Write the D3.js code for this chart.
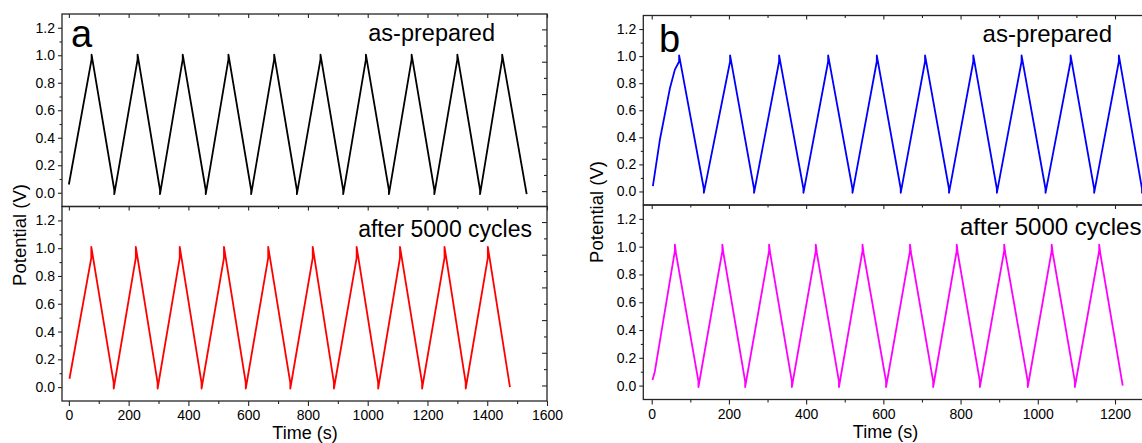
<!DOCTYPE html>
<html>
<head>
<meta charset="utf-8">
<script src="https://cdn.jsdelivr.net/npm/d3@7"></script>
<style>
body{margin:0;background:#fff;}
text{font-family:"Liberation Sans", Arial, sans-serif;fill:#000;}
</style>
</head>
<body>
<div id="vis-container"></div>
<script>
//data: time (s) and potential (V) at the turning points

//panel a, as-prepared (black)
let timeA1 = [0, 76,76, 152,152, 230,230, 305,305, 381,381, 458,458, 534,534, 610,610, 687,687,
  763,763, 842,842, 918,918, 994,994, 1071,1071, 1147,1147, 1223,1223, 1300,1300, 1376,1376, 1450,1450, 1532];
let potA1 = [0.06, 0.97,1.005, 0.02,-0.01, 0.97,1.005, 0.02,-0.01, 0.97,1.005, 0.02,-0.01, 0.97,1.005,
  0.02,-0.01, 0.97,1.005, 0.02,-0.01, 0.97,1.005, 0.02,-0.01, 0.97,1.005, 0.02,-0.01, 0.97,1.005,
  0.02,-0.01, 0.97,1.005, 0.02,-0.01, 0.97,1.005, -0.01];

//panel a, after 5000 cycles (red)
let timeA2 = [2, 75,75, 150,150, 224,224, 297,297, 371,371, 444,444, 519,519, 592,592, 667,667,
  741,741, 816,816, 887,887, 963,963, 1035,1035, 1108,1108, 1182,1182, 1257,1257, 1328,1328, 1402,1402, 1476];
let potA2 = [0.06, 0.93,1.01, 0.03,-0.01, 0.93,1.01, 0.03,-0.01, 0.93,1.01, 0.03,-0.01, 0.93,1.01,
  0.03,-0.01, 0.93,1.01, 0.03,-0.01, 0.93,1.01, 0.03,-0.01, 0.93,1.01, 0.03,-0.01, 0.93,1.01,
  0.03,-0.01, 0.93,1.01, 0.03,-0.01, 0.93,1.01, 0.0];

//panel b, as-prepared (blue)
let timeB1 = [3, 21, 47, 60, 71,71, 135,135, 203,203, 265,265, 330,330, 393,393, 457,457, 520,520,
  583,583, 645,645, 708,708, 770,770, 833,833, 894,894, 958,958, 1020,1020, 1085,1085, 1146,1146,
  1210,1210, 1270,1270, 1290];
let potB1 = [0.04, 0.38, 0.76, 0.9, 0.96,1.005, 0.02,-0.01, 0.96,1.005, 0.02,-0.01, 0.96,1.005,
  0.02,-0.01, 0.96,1.005, 0.02,-0.01, 0.96,1.005, 0.02,-0.01, 0.96,1.005, 0.02,-0.01, 0.96,1.005,
  0.02,-0.01, 0.96,1.005, 0.02,-0.01, 0.96,1.005, 0.02,-0.01, 0.96,1.005, 0.02,-0.01, 0.16];

//panel b, after 5000 cycles (magenta)
let timeB2 = [2, 8, 60,60, 63, 121,121, 183,183, 186, 242,242, 304,304, 307, 363,363, 425,425, 428,
  485,485, 546,546, 549, 607,607, 669,669, 672, 729,729, 790,790, 793, 850,850, 913,913, 916,
  974,974, 1036,1036, 1039, 1096,1096, 1159,1159, 1162, 1220];
let potB2 = [0.04, 0.1, 0.97,1.015, 0.95, 0.03,-0.01, 0.97,1.015, 0.95, 0.03,-0.01, 0.97,1.015, 0.95,
  0.03,-0.01, 0.97,1.015, 0.95, 0.03,-0.01, 0.97,1.015, 0.95, 0.03,-0.01, 0.97,1.015, 0.95,
  0.03,-0.01, 0.97,1.015, 0.95, 0.03,-0.01, 0.97,1.015, 0.95, 0.03,-0.01, 0.97,1.015, 0.95,
  0.03,-0.01, 0.97,1.015, 0.95, 0.0];

//tick values
let yTicks = [0, 0.2, 0.4, 0.6, 0.8, 1.0, 1.2];
let yMinor = [0.1, 0.3, 0.5, 0.7, 0.9, 1.1];
let rightTicks = [0, 0.2, 0.4, 0.6, 0.8, 1.0];
let rightMinor = [0.1, 0.3, 0.5, 0.7, 0.9];
let xTicksA = [0, 200, 400, 600, 800, 1000, 1200, 1400, 1600];
let xMinorA = [100, 300, 500, 700, 900, 1100, 1300, 1500];
let xTicksB = [0, 200, 400, 600, 800, 1000, 1200];
let xMinorB = [100, 300, 500, 700, 900, 1100, 1300];

let labelTop = "as-prepared";
let labelBottom = "after 5000 cycles";

//create svg container
let svg = d3.select("#vis-container")
  .append("svg")
  .attr("width", 1142)
  .attr("height", 443);

let axisColor = "#262626";

function addAxis(g, axis, tx, ty){
  let a = g.append("g")
    .attr("transform", `translate(${tx},${ty})`)
    .call(axis);
  a.select(".domain").remove();
  a.selectAll("line").attr("stroke", axisColor).attr("stroke-width", 1.1);
  a.selectAll("text").attr("font-size", "14px").attr("fill", "#000")
    .attr("font-family", "'Liberation Sans', Arial, sans-serif");
  return a;
}

function drawPanel(p){
  let g = svg.append("g");

  let x = d3.scaleLinear()
    .domain(p.xDomain)
    .range([p.left, p.right]);

  let rows = [
    {top:p.top, bottom:p.mid, time:p.t1, pot:p.v1, color:p.c1, label:labelTop, ly:p.ly1, ls:p.ls1},
    {top:p.mid, bottom:p.bottom, time:p.t2, pot:p.v2, color:p.c2, label:labelBottom, ly:p.ly2, ls:p.ls2}
  ];

  rows.forEach((r, i)=>{
    let y = d3.scaleLinear()
      .domain([-0.1, 1.3])
      .range([r.bottom, r.top]);

    //the right axis of the original has its own spacing
    let yR = d3.scaleLinear()
      .domain([-0.095, 1.095])
      .range([r.bottom, r.top]);

    //clip each trace to its box
    let clipId = `clip-${p.letter}-${i}`;
    svg.append("clipPath").attr("id", clipId)
      .append("rect")
      .attr("x", p.left).attr("y", r.top)
      .attr("width", p.right - p.left).attr("height", r.bottom - r.top);

    let line = d3.line()
      .x(d=>{return x(d[0]);})
      .y(d=>{return y(d[1]);});

    g.append("path")
      .datum(d3.zip(r.time, r.pot))
      .attr("clip-path", `url(#${clipId})`)
      .attr("fill", "none")
      .attr("stroke", r.color)
      .attr("stroke-width", 1.8)
      .attr("stroke-linejoin", "round")
      .attr("d", line);

    //left axis, outward
    addAxis(g, d3.axisLeft(y).tickValues(yTicks).tickSize(4).tickPadding(3)
      .tickFormat(d3.format(".1f")), p.left, 0);
    addAxis(g, d3.axisLeft(y).tickValues(yMinor).tickSize(2.5).tickFormat(""), p.left, 0);

    //right axis, inward
    addAxis(g, d3.axisLeft(yR).tickValues(rightTicks).tickSize(5).tickFormat(""), p.right, 0);
    addAxis(g, d3.axisLeft(yR).tickValues(rightMinor).tickSize(3).tickFormat(""), p.right, 0);

    //top ticks, inward
    addAxis(g, d3.axisBottom(x).tickValues(p.xTicks).tickSize(4).tickFormat(""), 0, r.top);
    addAxis(g, d3.axisBottom(x).tickValues(p.xMinor).tickSize(2.5).tickFormat(""), 0, r.top);

    //frame
    g.append("rect")
      .attr("x", p.left).attr("y", r.top)
      .attr("width", p.right - p.left).attr("height", r.bottom - r.top)
      .attr("fill", "none")
      .attr("stroke", axisColor)
      .attr("stroke-width", 1.3);

    g.append("text")
      .attr("x", p.labelX[i])
      .attr("y", r.ly)
      .attr("text-anchor", p.labelAnchor[i])
      .attr("font-size", r.ls + "px")
      .text(r.label);
  });

  //bottom axis, outward
  addAxis(g, d3.axisBottom(x).tickValues(p.xTicks).tickSize(5).tickPadding(4.5)
    .tickFormat(d3.format("d")), 0, p.bottom);
  addAxis(g, d3.axisBottom(x).tickValues(p.xMinor).tickSize(3).tickFormat(""), 0, p.bottom);

  //panel letter
  g.append("text")
    .attr("x", p.letterX)
    .attr("y", p.letterY)
    .attr("font-size", "38px")
    .text(p.letter);

  //label bottom axis
  g.append("text")
    .attr("x", p.timeX)
    .attr("y", p.timeY)
    .attr("font-size", "18px")
    .attr("text-anchor", "middle")
    .text("Time (s)");

  //label left axis
  g.append("text")
    .attr("transform", `translate(${p.potX},${p.potY}) rotate(-90)`)
    .attr("font-size", "18.5px")
    .attr("text-anchor", "middle")
    .text("Potential (V)");
}

drawPanel({
  letter:"a", left:62, right:547, top:14, mid:206.5, bottom:401,
  xDomain:[-23, 1600], xTicks:xTicksA, xMinor:xMinorA,
  t1:timeA1, v1:potA1, c1:"#000000", t2:timeA2, v2:potA2, c2:"#ff0000",
  labelX:[495, 532], labelAnchor:["end", "end"], ly1:41, ly2:237, ls1:23.5, ls2:23,
  letterX:71, letterY:47, timeX:305, timeY:439, potX:26, potY:235
});

drawPanel({
  letter:"b", left:643.3, right:1153.6, top:15.5, mid:205, bottom:399.5,
  xDomain:[-21.8, 1300], xTicks:xTicksB, xMinor:xMinorB,
  t1:timeB1, v1:potB1, c1:"#0000ff", t2:timeB2, v2:potB2, c2:"#ff00ff",
  labelX:[1112, 960], labelAnchor:["end", "start"], ly1:41.5, ly2:235, ls1:24, ls2:24,
  letterX:659, letterY:52, timeX:885.5, timeY:437.5, potX:603, potY:212
});
</script>
</body>
</html>
